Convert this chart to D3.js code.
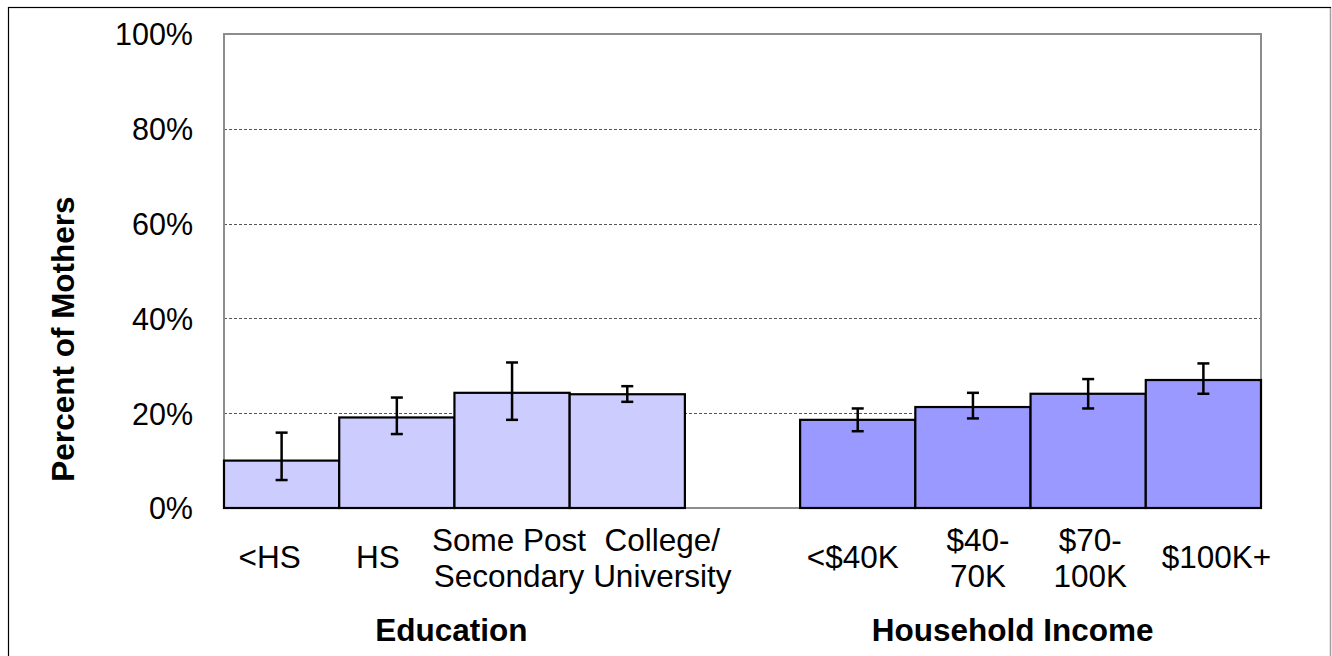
<!DOCTYPE html>
<html>
<head>
<meta charset="utf-8">
<script src="https://cdn.jsdelivr.net/npm/d3@7"></script>
<style>
  html, body { margin: 0; padding: 0; background: #fff; }
  svg { display: block; }
  text { font-family: "Liberation Sans", Arial, sans-serif; fill: #000; }
</style>
</head>
<body>
<svg id="chart" width="1332" height="656"></svg>
<script>
// ---- data ----
const categories = ["<HS", "HS", "Some Post\nSecondary", "College/\nUniversity", "", "<$40K", "$40-\n70K", "$70-\n100K", "$100K+"];
const groups = ["edu", "edu", "edu", "edu", "gap", "inc", "inc", "inc", "inc"];
const values = [10.0, 19.1, 24.3, 24.0, null, 18.6, 21.3, 24.1, 27.0];
const errLow = [5.9, 15.6, 18.6, 22.4, null, 16.2, 18.9, 21.0, 24.1];
const errHigh = [15.9, 23.3, 30.7, 25.7, null, 21.0, 24.3, 27.2, 30.5];
const yTicks = [0, 20, 40, 60, 80, 100];
const groupTitles = ["Education", "Household Income"];
const groupSpans = [[0, 3], [5, 8]];
const yTitle = "Percent of Mothers";

// ---- layout ----
const plot = { left: 224, right: 1261, top: 34, bottom: 508 };
const labelDx = [-12, -19, -3, 35, 0, -5, 5, 2, 13];
const groupDx = [-3, -18];
const colors = { edu: "#CCCCFF", inc: "#9999FF" };

const svg = d3.select("#chart");

// outer frame
svg.append("rect").attr("x", 8.5).attr("y", 7.5).attr("width", 1322).attr("height", 700)
  .attr("fill", "none").attr("stroke", "#000").attr("stroke-width", 1.2);
svg.append("line").attr("x1", 1330.5).attr("x2", 1330.5).attr("y1", 8).attr("y2", 656)
  .attr("stroke", "#a0a0a0").attr("stroke-width", 1);

const x = d3.scaleBand().domain(d3.range(categories.length))
  .range([plot.left, plot.right]).paddingInner(0).paddingOuter(0);
const y = d3.scaleLinear().domain([0, 100]).range([plot.bottom, plot.top]);

// gridlines
svg.append("g").selectAll("line").data(yTicks.filter(t => t > 0 && t < 100)).join("line")
  .attr("x1", plot.left).attr("x2", plot.right)
  .attr("y1", d => Math.round(y(d)) + 0.5).attr("y2", d => Math.round(y(d)) + 0.5)
  .attr("stroke", "#555").attr("stroke-width", 1).attr("stroke-dasharray", "3,2");

// plot border
svg.append("rect").attr("x", plot.left).attr("y", plot.top)
  .attr("width", plot.right - plot.left).attr("height", plot.bottom - plot.top)
  .attr("fill", "none").attr("stroke", "#8c8c8c").attr("stroke-width", 2);

// y axis labels
const yAxis = d3.axisLeft(y).tickValues(yTicks).tickFormat(d => d + "%").tickSize(0).tickPadding(31);
const gy = svg.append("g").attr("transform", `translate(${plot.left},0)`).call(yAxis);
gy.select(".domain").remove();
gy.selectAll("text").attr("font-size", 30.5).attr("font-family", "Liberation Sans, Arial, sans-serif")
  .attr("dy", "0.36em");

// bars
const idx = d3.range(categories.length).filter(i => values[i] !== null);
svg.append("g").selectAll("rect").data(idx).join("rect")
  .attr("x", i => x(i)).attr("width", x.bandwidth())
  .attr("y", i => y(values[i])).attr("height", i => y(0) - y(values[i]))
  .attr("fill", i => colors[groups[i]]).attr("stroke", "#000").attr("stroke-width", 2.2);

// error bars
const eg = svg.append("g").attr("stroke", "#000").attr("stroke-width", 2.5);
const cap = 6;
idx.forEach(i => {
  const cx = x(i) + x.bandwidth() / 2;
  eg.append("line").attr("x1", cx).attr("x2", cx).attr("y1", y(errHigh[i])).attr("y2", y(errLow[i]));
  eg.append("line").attr("x1", cx - cap).attr("x2", cx + cap).attr("y1", y(errHigh[i])).attr("y2", y(errHigh[i]));
  eg.append("line").attr("x1", cx - cap).attr("x2", cx + cap).attr("y1", y(errLow[i])).attr("y2", y(errLow[i]));
});

// category labels
const lg = svg.append("g").attr("font-size", 31.5).attr("text-anchor", "middle");
categories.forEach((c, i) => {
  if (!c) return;
  const cx = x(i) + x.bandwidth() / 2 + labelDx[i];
  const lines = c.split("\n");
  const t = lg.append("text").attr("x", cx);
  if (lines.length === 1) {
    t.attr("y", 568).text(lines[0]);
  } else {
    lines.forEach((l, k) => {
      t.append("tspan").attr("x", cx).attr("y", 551 + k * 36).text(l);
    });
  }
});

// group titles
groupTitles.forEach((g, k) => {
  const [a, b] = groupSpans[k];
  const cx = (x(a) + x(b) + x.bandwidth()) / 2;
  svg.append("text").attr("x", cx + groupDx[k]).attr("y", 641)
    .attr("text-anchor", "middle").attr("font-size", 31.5).attr("font-weight", "bold").text(g);
});

// y title
svg.append("text").attr("transform", "translate(74,339) rotate(-90)")
  .attr("text-anchor", "middle").attr("font-size", 31.5).attr("font-weight", "bold").text(yTitle);
</script>
</body>
</html>
